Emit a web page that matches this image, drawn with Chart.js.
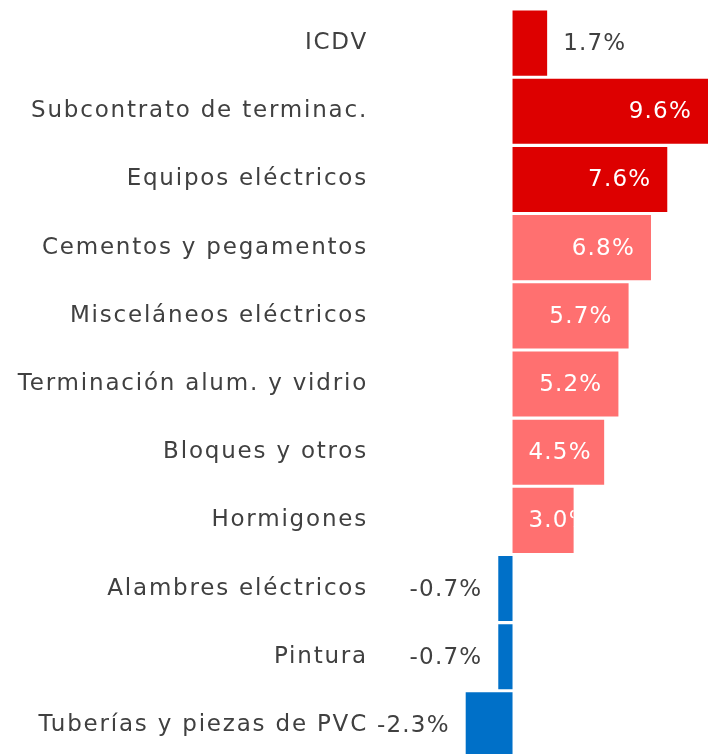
<!DOCTYPE html>
<html>
<head>
<meta charset="utf-8">
<script src="https://cdn.jsdelivr.net/npm/chart.js@4"></script>
<style>
  html, body { margin: 0; padding: 0; background: #fff; overflow: hidden; }
  #wrap { width: 709px; height: 760px; }
</style>
</head>
<body>
<div id="wrap"><canvas id="myChart" width="709" height="760"></canvas></div>
<script>
// categorías y variaciones (%)
const categories = [
    "ICDV",
    "Subcontrato de terminac.",
    "Equipos eléctricos",
    "Cementos y pegamentos",
    "Misceláneos eléctricos",
    "Terminación alum. y vidrio",
    "Bloques y otros",
    "Hormigones",
    "Alambres eléctricos",
    "Pintura",
    "Tuberías y piezas de PVC"
];
const values = [1.7, 9.6, 7.6, 6.8, 5.7, 5.2, 4.5, 3.0, -0.7, -0.7, -2.3];
const barColors = [
    "#dd0000", "#dd0000", "#dd0000",
    "#ff7070", "#ff7070", "#ff7070", "#ff7070", "#ff7070",
    "#0070c8", "#0070c8", "#0070c8"
];

const FONT = "'DejaVu Sans', sans-serif";
const FONT_SIZE = 23;
const SPACING = '1.8px';
const TEXT = "#404040";

// espaciado de letras (la fuente original es más ancha)
const spacing = {
    id: 'spacing',
    beforeLayout(chart) { chart.ctx.letterSpacing = SPACING; },
    beforeDraw(chart) { chart.ctx.letterSpacing = SPACING; }
};

// etiquetas de valor
const valueLabels = {
    id: 'valueLabels',
    afterDatasetsDraw(chart) {
        const ctx = chart.ctx;
        const meta = chart.getDatasetMeta(0);
        const pad = 16;
        ctx.save();
        ctx.letterSpacing = '1.2px';
        ctx.font = FONT_SIZE + "px " + FONT;
        ctx.textBaseline = 'middle';
        meta.data.forEach((bar, i) => {
            const v = values[i];
            const txt = v.toFixed(1) + '%';
            const w = ctx.measureText(txt).width;
            const left = Math.min(bar.x, bar.base);
            const right = Math.max(bar.x, bar.base);
            const top = bar.y - bar.height / 2;
            const y = bar.y + 1;
            if (v < 0) {
                ctx.fillStyle = TEXT;
                ctx.textAlign = 'left';
                ctx.fillText(txt, left - pad - w, y);
            } else if (right - left < w + 2 * pad - 40) {
                ctx.fillStyle = TEXT;
                ctx.textAlign = 'left';
                ctx.fillText(txt, right + pad, y);
            } else {
                let x = Math.max(right - pad - w, left + pad);
                ctx.save();
                ctx.beginPath();
                ctx.rect(left, top, right - left, bar.height);
                ctx.clip();
                ctx.fillStyle = '#ffffff';
                ctx.textAlign = 'left';
                ctx.fillText(txt, x, y);
                ctx.restore();
            }
        });
        ctx.restore();
    }
};

new Chart(document.getElementById('myChart').getContext('2d'), {
    type: 'bar',
    data: {
        labels: categories,
        datasets: [{
            data: values,
            backgroundColor: barColors,
            borderWidth: 0,
            categoryPercentage: 1,
            barPercentage: 0.955
        }]
    },
    options: {
        indexAxis: 'y',
        responsive: false,
        animation: false,
        layout: { padding: { top: 9, bottom: 1, left: 0, right: 1 } },
        plugins: { legend: { display: false }, tooltip: { enabled: false } },
        scales: {
            x: {
                min: -7,
                max: 9.6,
                display: false
            },
            y: {
                grid: { display: false, drawTicks: false },
                border: { display: false },
                ticks: {
                    color: TEXT,
                    padding: 2,
                    font: { family: FONT, size: FONT_SIZE }
                },
                afterFit(scale) {
                    scale.width = 370;
                    scale.paddingTop = 0;
                    scale.paddingBottom = 0;
                }
            }
        }
    },
    plugins: [spacing, valueLabels]
});
</script>
</body>
</html>
